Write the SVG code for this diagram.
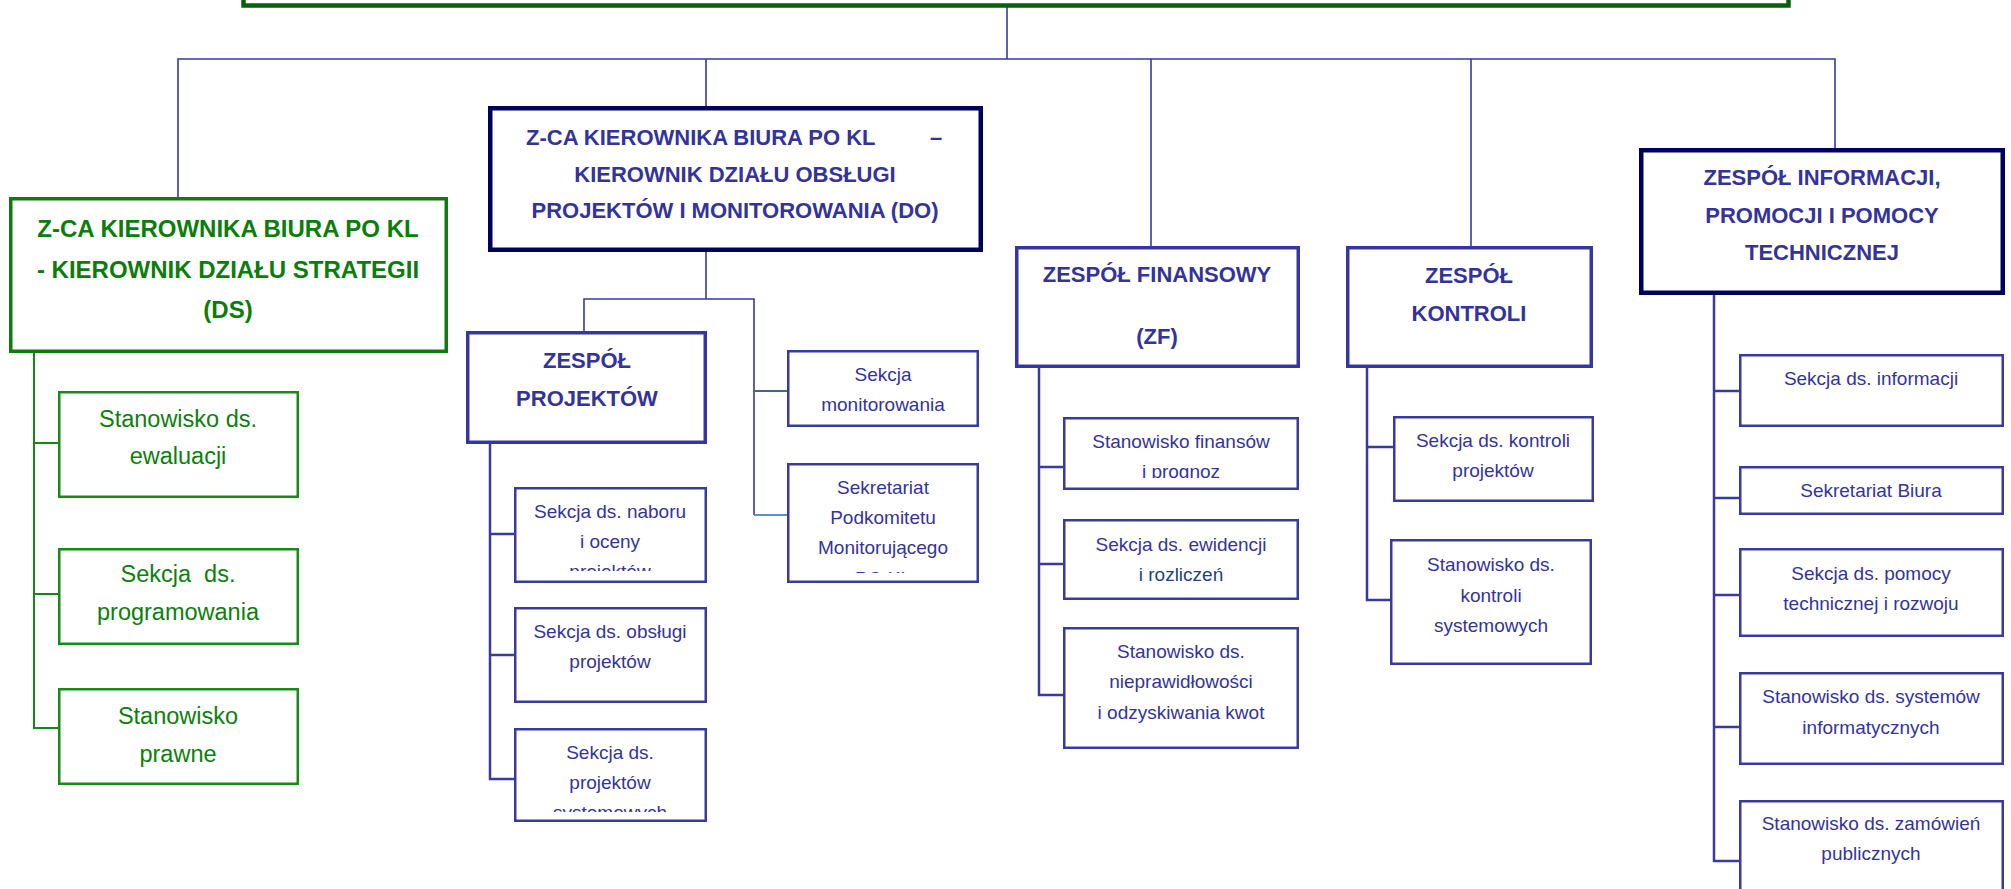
<svg xmlns="http://www.w3.org/2000/svg" width="2011" height="889" viewBox="0 0 2011 889">
<style>
text{font-family:"Liberation Sans",Arial,sans-serif}
.h{font-weight:bold;font-size:22px;fill:#33339a;text-anchor:middle}
.hg{font-weight:bold;font-size:24px;fill:#0a7d0a;text-anchor:middle}
.t{font-size:19px;fill:#34349a;text-anchor:middle}
.tg{font-size:23.5px;fill:#0b800b;text-anchor:middle}
.c{fill:none;stroke:#3a3a9c;stroke-width:1.6}
.c2{fill:none;stroke:#3a3a9c;stroke-width:2.5}
.cg{fill:none;stroke:#168616;stroke-width:2}
.bTop{fill:#fff;stroke:#0b5e0b;stroke-width:4.5}
.bDS{fill:#fff;stroke:#107a10;stroke-width:3.5}
.bG{fill:#fff;stroke:#178a17;stroke-width:2.5}
.bN{fill:#fff;stroke:#00005e;stroke-width:4.5}
.bM{fill:#fff;stroke:#3636a0;stroke-width:3.5}
.bB{fill:#fff;stroke:#3a3a9e;stroke-width:2.5}
</style>
<defs>
<clipPath id="cpNab"><rect x="514" y="487" width="192" height="84"/></clipPath>
<clipPath id="cpSys"><rect x="514" y="728" width="192" height="84"/></clipPath>
<clipPath id="cpSekr"><rect x="787" y="463" width="192" height="110"/></clipPath>
<clipPath id="cpFin"><rect x="1063" y="417" width="236" height="61"/></clipPath>
</defs>
<rect width="2011" height="889" fill="#fff"/>

<g id="connectors">
<path class="c" d="M1007 7V59M178 197V59H1835V148M706 59V106M1151 59V246M1471 59V246"/>
<path class="cg" d="M34 353V728H58M34 443H58M34 594H58"/>
<path class="c" d="M706 252V299M584 331V299H754V515"/>
<path d="M754 391H787" fill="none" stroke="#3e6a8e" stroke-width="2"/>
<path d="M754 515H787" fill="none" stroke="#5b8fd0" stroke-width="2"/>
<path class="c2" d="M490 444V779H514M490 534H514M490 655H514"/>
<path class="c2" d="M1039 368V695H1063M1039 467H1063M1039 564H1063"/>
<path class="c2" d="M1367 368V600H1390M1367 447H1393"/>
<path class="c2" d="M1714 295V861H1739M1714 391H1739M1714 498H1739M1714 595H1739M1714 727H1739"/>
</g>

<g id="top">
<rect class="bTop" x="243.5" y="-40" width="1545" height="45.5"/>
</g>

<g id="ds">
<rect class="bDS" x="10.75" y="198.75" width="435.5" height="152.5"/>
<text class="hg" x="228" y="237">Z-CA KIEROWNIKA BIURA PO KL</text>
<text class="hg" x="228" y="278">- KIEROWNIK DZIAŁU STRATEGII</text>
<text class="hg" x="228" y="318">(DS)</text>
</g>

<g id="ds-ewaluacji">
<rect class="bG" x="59.25" y="392.25" width="238.5" height="104.5"/>
<text class="tg" x="178" y="427">Stanowisko ds.</text>
<text class="tg" x="178" y="464">ewaluacji</text>
</g>
<g id="ds-programowania">
<rect class="bG" x="59.25" y="549.25" width="238.5" height="94.5"/>
<text class="tg" x="178" y="582" xml:space="preserve">Sekcja  ds.</text>
<text class="tg" x="178" y="620">programowania</text>
</g>
<g id="ds-prawne">
<rect class="bG" x="59.25" y="689.25" width="238.5" height="94.5"/>
<text class="tg" x="178" y="724">Stanowisko</text>
<text class="tg" x="178" y="762">prawne</text>
</g>

<g id="do">
<rect class="bN" x="490.25" y="108.25" width="490.5" height="141.5"/>
<text class="h" style="text-anchor:start" y="145"><tspan x="526">Z-CA KIEROWNIKA BIURA PO KL</tspan><tspan x="930">–</tspan></text>
<text class="h" x="735" y="182">KIEROWNIK DZIAŁU OBSŁUGI</text>
<text class="h" x="735" y="218">PROJEKTÓW I MONITOROWANIA (DO)</text>
</g>

<g id="zp">
<rect class="bM" x="467.75" y="332.75" width="237.5" height="109.5"/>
<text class="h" x="587" y="368">ZESPÓŁ</text>
<text class="h" x="587" y="406">PROJEKTÓW</text>
</g>
<g id="zp-naboru">
<rect class="bB" x="515.25" y="488.25" width="190.5" height="93.5"/>
<g clip-path="url(#cpNab)">
<text class="t" x="610" y="518">Sekcja ds. naboru</text>
<text class="t" x="610" y="548">i oceny</text>
<text class="t" x="610" y="578">projektów</text>
</g>
</g>
<g id="zp-obslugi">
<rect class="bB" x="515.25" y="608.25" width="190.5" height="93.5"/>
<text class="t" x="610" y="638">Sekcja ds. obsługi</text>
<text class="t" x="610" y="668">projektów</text>
</g>
<g id="zp-systemowych">
<rect class="bB" x="515.25" y="729.25" width="190.5" height="91.5"/>
<g clip-path="url(#cpSys)">
<text class="t" x="610" y="759">Sekcja ds.</text>
<text class="t" x="610" y="789">projektów</text>
<text class="t" x="610" y="819">systemowych</text>
</g>
</g>
<g id="do-monitorowanie">
<rect class="bB" x="788.25" y="351.25" width="189.5" height="74.5"/>
<text class="t" x="883" y="381">Sekcja</text>
<text class="t" x="883" y="411">monitorowania</text>
</g>
<g id="do-sekretariat">
<rect class="bB" x="788.25" y="464.25" width="189.5" height="117.5"/>
<g clip-path="url(#cpSekr)">
<text class="t" x="883" y="494">Sekretariat</text>
<text class="t" x="883" y="524">Podkomitetu</text>
<text class="t" x="883" y="554">Monitorującego</text>
<text class="t" x="883" y="585">PO KL</text>
</g>
</g>

<g id="zf">
<rect class="bM" x="1016.75" y="247.75" width="281.5" height="118.5"/>
<text class="h" x="1157" y="282">ZESPÓŁ FINANSOWY</text>
<text class="h" x="1157" y="344">(ZF)</text>
</g>
<g id="zf-finansow">
<rect class="bB" x="1064.25" y="418.25" width="233.5" height="70.5"/>
<g clip-path="url(#cpFin)">
<text class="t" x="1181" y="448">Stanowisko finansów</text>
<text class="t" x="1181" y="478">i prognoz</text>
</g>
</g>
<g id="zf-ewidencji">
<rect class="bB" x="1064.25" y="520.25" width="233.5" height="78.5"/>
<text class="t" x="1181" y="551">Sekcja ds. ewidencji</text>
<text class="t" x="1181" y="581" style="fill:#24427a">i rozliczeń</text>
</g>
<g id="zf-nieprawidlowosci">
<rect class="bB" x="1064.25" y="628.25" width="233.5" height="119.5"/>
<text class="t" x="1181" y="658">Stanowisko ds.</text>
<text class="t" x="1181" y="688">nieprawidłowości</text>
<text class="t" x="1181" y="719">i odzyskiwania kwot</text>
</g>

<g id="zk">
<rect class="bM" x="1347.75" y="247.75" width="243.5" height="118.5"/>
<text class="h" x="1469" y="283">ZESPÓŁ</text>
<text class="h" x="1469" y="321">KONTROLI</text>
</g>
<g id="zk-projektow">
<rect class="bB" x="1394.25" y="417.25" width="198.5" height="83.5"/>
<text class="t" x="1493" y="447">Sekcja ds. kontroli</text>
<text class="t" x="1493" y="477">projektów</text>
</g>
<g id="zk-systemowych">
<rect class="bB" x="1391.25" y="540.25" width="199.5" height="123.5"/>
<text class="t" x="1491" y="571">Stanowisko ds.</text>
<text class="t" x="1491" y="602">kontroli</text>
<text class="t" x="1491" y="632">systemowych</text>
</g>

<g id="zi">
<rect class="bN" x="1641.25" y="150.25" width="361.5" height="142.5"/>
<text class="h" x="1822" y="185">ZESPÓŁ INFORMACJI,</text>
<text class="h" x="1822" y="223">PROMOCJI I POMOCY</text>
<text class="h" x="1822" y="260">TECHNICZNEJ</text>
</g>
<g id="zi-informacji">
<rect class="bB" x="1740.25" y="355.25" width="262.5" height="70.5"/>
<text class="t" x="1871" y="385">Sekcja ds. informacji</text>
</g>
<g id="zi-sekretariat">
<rect class="bB" x="1740.25" y="467.25" width="262.5" height="46.5"/>
<text class="t" x="1871" y="497">Sekretariat Biura</text>
</g>
<g id="zi-pomocy">
<rect class="bB" x="1740.25" y="549.25" width="262.5" height="86.5"/>
<text class="t" x="1871" y="580">Sekcja ds. pomocy</text>
<text class="t" x="1871" y="610">technicznej i rozwoju</text>
</g>
<g id="zi-systemow">
<rect class="bB" x="1740.25" y="673.25" width="262.5" height="90.5"/>
<text class="t" x="1871" y="703">Stanowisko ds. systemów</text>
<text class="t" x="1871" y="734">informatycznych</text>
</g>
<g id="zi-zamowien">
<rect class="bB" x="1740.25" y="801.25" width="262.5" height="120"/>
<text class="t" x="1871" y="830">Stanowisko ds. zamówień</text>
<text class="t" x="1871" y="860">publicznych</text>
</g>
</svg>
